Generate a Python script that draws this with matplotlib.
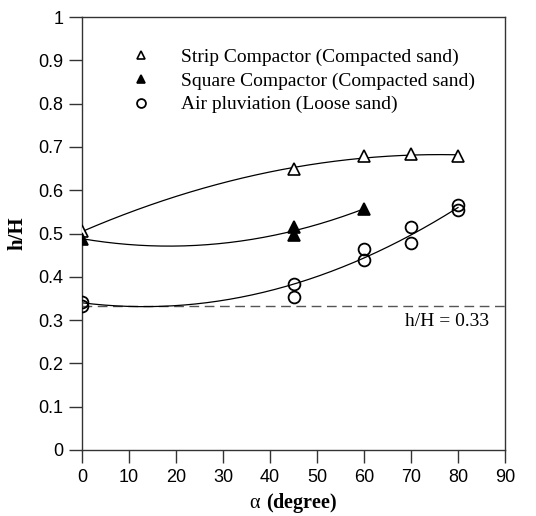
import numpy as np
import matplotlib
matplotlib.use("Agg")
import matplotlib.pyplot as plt

plt.rcParams["mathtext.fontset"] = "custom"
plt.rcParams["mathtext.rm"] = "Liberation Serif"
plt.rcParams["mathtext.bf"] = "Liberation Serif:bold"

# Strip compactor (compacted sand)
strip_x = [0, 45, 60, 70, 80]
strip_y = [0.505, 0.648, 0.679, 0.683, 0.679]
# Square compactor (compacted sand)
square_x = [0, 45, 45, 60]
square_y = [0.488, 0.515, 0.497, 0.557]
# Air pluviation (loose sand)
air_x = [0, 0, 45, 45, 60, 60, 70, 70, 80, 80]
air_y = [0.341, 0.332, 0.383, 0.353, 0.464, 0.438, 0.515, 0.478, 0.566, 0.554]
# trend line for the air pluviation curve
air_trend_x = [0, 45, 80]
air_trend_y = [0.340, 0.383, 0.560]
ref_level = 0.333

fig = plt.figure(figsize=(5.36, 5.16), dpi=100, facecolor="white")
ax = fig.add_axes([82 / 536, 1 - 450 / 516, 423 / 536, 433 / 516])

serif = "Liberation Serif"
sans = "Liberation Sans"
ms = 8

ax.axhline(ref_level, xmin=0, xmax=1, color="#555555", lw=1.0,
           dashes=(7, 4), zorder=1)

fits = [(strip_x, strip_y, 80), (square_x, square_y, 60),
        (air_trend_x, air_trend_y, 80)]
for xs, ys, xmax in fits:
    c = np.polyfit(xs, ys, 2)
    xx = np.linspace(0, xmax, 200)
    ax.plot(xx, np.polyval(c, xx), color="black", lw=0.9, zorder=2)

ax.plot(strip_x, strip_y, "^", mfc="white", mec="black", mew=1.2, ms=ms,
        ls="none", label="Strip Compactor (Compacted sand)", zorder=3)
ax.plot(square_x, square_y, "^", mfc="black", mec="black", mew=1.2, ms=ms,
        ls="none", label="Square Compactor (Compacted sand)", zorder=3)
ax.plot(air_x, air_y, "o", mfc="none", mec="black", mew=1.3, ms=8.5,
        ls="none", label="Air pluviation (Loose sand)", zorder=3)

ax.text(68.7, 0.296, "h/H = 0.33", fontfamily=serif, fontsize=14,
        va="center", ha="left")

ax.set_xlim(0, 90)
ax.set_ylim(0, 1)
ax.set_xticks(np.arange(0, 91, 10))
ax.set_yticks(np.arange(0, 1.01, 0.1))
ax.set_yticklabels(["0", "0.1", "0.2", "0.3", "0.4", "0.5", "0.6", "0.7",
                    "0.8", "0.9", "1"])
ax.tick_params(direction="out", length=9.5, width=1.0, color="#333333",
               labelsize=13, pad=4)
for lab in ax.get_xticklabels() + ax.get_yticklabels():
    lab.set_fontfamily(sans)
for s in ax.spines.values():
    s.set_color("#333333")
    s.set_linewidth(1.0)

ax.set_xlabel(r"$\mathrm{α}\ \mathbf{(degree)}$", fontsize=14.5, labelpad=4)
ax.set_ylabel("h/H", fontfamily=serif, fontweight="bold", fontsize=15,
              labelpad=8)

ax.legend(loc="upper left", bbox_to_anchor=(131 / 536, 1 - 48 / 516),
          bbox_transform=fig.transFigure, frameon=False,
          prop={"family": serif, "size": 14}, handlelength=1.0,
          handletextpad=1.56, labelspacing=0.32, borderpad=0,
          borderaxespad=0, markerscale=0.75)

fig.savefig("out.png", dpi=100)
